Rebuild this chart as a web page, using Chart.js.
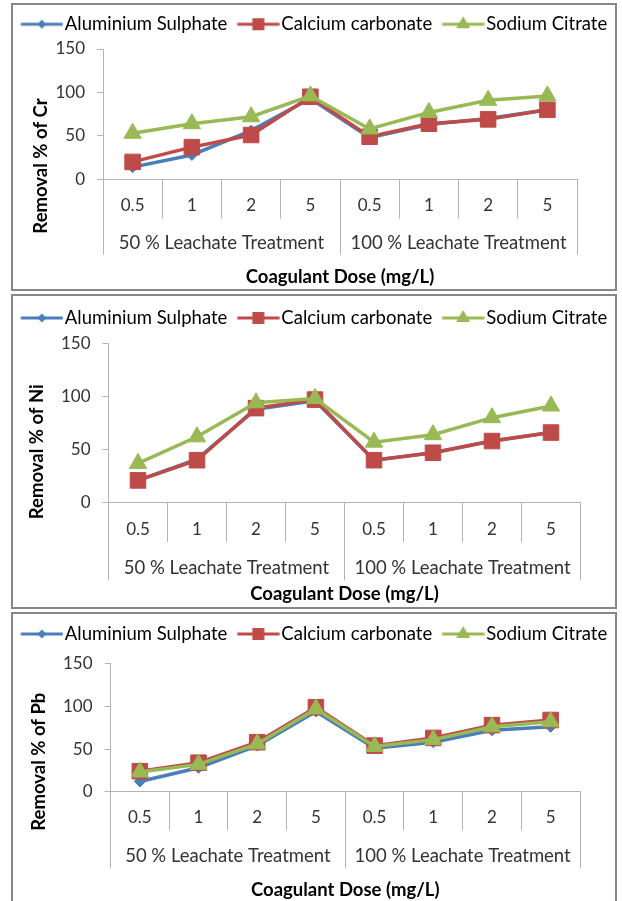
<!DOCTYPE html>
<html>
<head>
<meta charset="utf-8">
<title>Removal % of Cr, Ni and Pb</title>
<script src="https://cdn.jsdelivr.net/npm/chart.js@4.4.1/dist/chart.umd.min.js"></script>
<style>
  html, body { margin: 0; padding: 0; background: #fff; }
  body { width: 622px; height: 901px; position: relative; overflow: hidden; }
  .panel { position: absolute; left: 11px; width: 606px; border: 2px solid #878787; box-sizing: border-box; background: #fff; }
  .panel canvas { display: block; }
</style>
</head>
<body>
<div class="panel" style="top:3px;height:288px"><canvas id="chartCr"></canvas></div>
<div class="panel" style="top:294px;height:315px"><canvas id="chartNi"></canvas></div>
<div class="panel" style="top:612px;height:300px"><canvas id="chartPb"></canvas></div>
<script>
// categories
const doses = ['0.5', '1', '2', '5', '0.5', '1', '2', '5'];
const groups = ['50 % Leachate Treatment', '100 % Leachate Treatment'];
const seriesNames = ['Aluminium Sulphate', 'Calcium carbonate', 'Sodium Citrate'];

// Cr removal %
const crAlum = [14, 28, 56, 93, 48, 63, 70, 80];
const crCalc = [20, 37, 51, 95, 49, 64, 69, 80];
const crSod = [53, 64, 72, 96, 58, 77, 91, 96];

// Ni removal %
const niAlum = [21, 41, 88, 96, 40, 47, 58, 66];
const niCalc = [21, 40, 89, 97, 40, 47, 58, 66];
const niSod = [37, 62, 94, 98, 57, 64, 80, 91];

// Pb removal %
const pbAlum = [12, 28, 54, 94, 51, 58, 72, 76];
const pbCalc = [24, 34, 58, 99, 54, 63, 78, 84];
const pbSod = [23, 32, 56, 97, 53, 61, 76, 82];

const yTicks = { min: 0, max: 150, step: 50 };

// styles
const colors = ['#4a7ebb', '#be4b48', '#98b954'];
const markers = ['rectRot', 'rect', 'triangle'];
const markerRadius = [5.5, 11, 10];
const axisGray = '#b4b4b4';
const textFont = 18.5;
const numFont = 17;

Chart.defaults.font.family = 'Lato';

// legend icon: line with the marker in the middle, like the Excel legend
function legendIcon(i) {
  const c = document.createElement('canvas');
  c.width = 50; c.height = 20;
  const ctx = c.getContext('2d');
  ctx.strokeStyle = colors[i];
  ctx.fillStyle = colors[i];
  ctx.lineWidth = 3;
  ctx.beginPath(); ctx.moveTo(7.6, 10); ctx.lineTo(49.6, 10); ctx.stroke();
  const cx = 28.6, cy = 10;
  ctx.beginPath();
  if (i == 0) {
    ctx.moveTo(cx, cy - 4.5); ctx.lineTo(cx + 4.5, cy); ctx.lineTo(cx, cy + 4.5); ctx.lineTo(cx - 4.5, cy);
  } else if (i == 1) {
    ctx.rect(cx - 6, cy - 6, 12, 12);
  } else {
    ctx.moveTo(cx, cy - 8); ctx.lineTo(cx + 7, cy + 4); ctx.lineTo(cx - 7, cy + 4);
  }
  ctx.closePath();
  ctx.fill();
  return c;
}
const icons = [legendIcon(0), legendIcon(1), legendIcon(2)];

// keep the legend on one row and leave some room under it
function legendGap(gap) {
  return {
    id: 'legendGap',
    afterInit(chart) {
      const lg = chart.legend;
      const fit = lg.fit;
      const draw = lg.draw;
      lg.fit = function () {
        const mw = this.maxWidth;
        this.maxWidth = mw + 80;
        fit.call(this);
        this.maxWidth = mw;
        this.width = Math.min(this.width, mw);
        this.height += gap;
      };
      lg.draw = function () {
        // widen both sides the same so centring stays put
        this.left -= 40; this.right += 40;
        draw.call(this);
        this.left += 40; this.right -= 40;
      };
    }
  };
}

// vertical axis title, placed like in the original figure
function yTitle(text, x, dy) {
  return {
    id: 'yTitle',
    afterDraw(chart) {
      const ctx = chart.ctx;
      const y = chart.scales.y.bottom + dy;
      ctx.save();
      ctx.translate(x, y);
      ctx.rotate(-Math.PI / 2);
      ctx.font = 'bold ' + textFont + 'px Lato';
      ctx.fillStyle = '#000';
      ctx.textAlign = 'center';
      ctx.textBaseline = 'middle';
      ctx.fillText(text, 0, 0);
      ctx.restore();
    }
  };
}

function makeChart(id, yText, series, lay) {
  return new Chart(document.getElementById(id), {
    type: 'line',
    data: {
      labels: doses,
      datasets: series.map((vals, i) => ({
        label: seriesNames[i],
        data: vals,
        xAxisID: 'x',
        yAxisID: 'y',
        order: 2 - i,
        borderColor: colors[i],
        backgroundColor: colors[i],
        borderWidth: 3.5,
        tension: 0,
        fill: false,
        pointStyle: markers[i],
        pointRadius: markerRadius[i],
        pointHoverRadius: markerRadius[i],
        pointBackgroundColor: colors[i],
        pointBorderColor: colors[i],
        pointBorderWidth: 1
      }))
    },
    options: {
      responsive: true,
      maintainAspectRatio: false,
      animation: false,
      events: [],
      layout: { padding: { top: lay.padTop, bottom: 0, left: 0, right: 0 } },
      plugins: {
        tooltip: { enabled: false },
        legend: {
          position: 'top',
          labels: {
            usePointStyle: true,
            pointStyleWidth: 34.75,
            padding: 10,
            color: '#1a1a1a',
            font: { size: textFont },
            generateLabels: chart => chart.data.datasets.map((ds, i) => ({
              text: ds.label,
              fillStyle: colors[i],
              strokeStyle: colors[i],
              lineWidth: 0,
              pointStyle: icons[i],
              datasetIndex: i,
              hidden: false
            }))
          }
        }
      },
      scales: {
        y: {
          min: yTicks.min,
          max: yTicks.max,
          ticks: { stepSize: yTicks.step, padding: 12, color: '#333', font: { size: numFont } },
          grid: { drawOnChartArea: false, tickLength: 6, color: axisGray },
          border: { color: axisGray },
          afterFit: s => { s.width = lay.left; }
        },
        // dose labels, hung from the zero line
        x: {
          position: { y: 0 },
          offset: true,
          ticks: { autoSkip: false, maxRotation: 0, padding: lay.p1, color: '#333', font: { size: numFont } },
          grid: { offset: true, drawOnChartArea: false, tickLength: lay.tl1, color: axisGray },
          border: { color: axisGray },
          afterFit: s => { s.height = 0; }
        },
        // treatment groups, second row of the category axis
        x2: {
          type: 'category',
          labels: groups,
          position: { y: 0 },
          offset: true,
          ticks: { autoSkip: false, maxRotation: 0, padding: lay.p2, color: '#333', font: { size: textFont } },
          grid: { offset: true, drawOnChartArea: false, tickLength: lay.tl2, color: axisGray },
          border: { display: false },
          afterFit: s => { s.height = 0; }
        },
        // axis title row, takes the room under the plot
        xt: {
          type: 'category',
          position: 'bottom',
          offset: true,
          grid: { display: false, drawTicks: false, tickLength: 0 },
          border: { display: false },
          ticks: { display: false },
          title: {
            display: true,
            text: 'Coagulant Dose (mg/L)',
            color: '#000',
            font: { size: textFont, weight: 'bold' },
            padding: { top: lay.tTop, bottom: lay.tBottom }
          }
        },
        yr: {
          position: 'right',
          grid: { display: false, drawTicks: false, tickLength: 0 },
          border: { display: false },
          ticks: { display: false },
          afterFit: s => { s.width = lay.right; }
        }
      }
    },
    plugins: [legendGap(lay.gap), yTitle(yText, lay.titleX, lay.titleDy)]
  });
}

makeChart('chartCr', 'Removal % of Cr', [crAlum, crCalc, crSod], {
  padTop: 0, gap: 5.5, left: 90, right: 38,
  tl1: 38.7, p1: -22.2, tl2: 75.7, p2: -23.1, tTop: 86.6, tBottom: 0.9,
  titleX: 28, titleDy: -13.3
});
makeChart('chartNi', 'Removal % of Ni', [niAlum, niCalc, niSod], {
  padTop: 2.75, gap: 6.05, left: 95.5, right: 34.5,
  tl1: 39, p1: -21.9, tl2: 77.3, p2: -23.4, tTop: 80.2, tBottom: 1.9,
  titleX: 24, titleDy: -51
});
makeChart('chartPb', 'Removal % of Pb', [pbAlum, pbCalc, pbSod], {
  padTop: 0.75, gap: 10.45, left: 97.5, right: 35,
  tl1: 38.3, p1: -22.2, tl2: 76.3, p2: -23.1, tTop: 87.2, tBottom: 8.9,
  titleX: 26, titleDy: -30
});
</script>
</body>
</html>
